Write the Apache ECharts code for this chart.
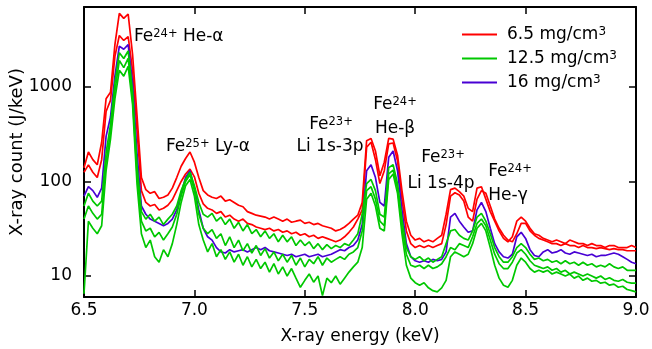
<!DOCTYPE html>
<html><head><meta charset="utf-8">
<script src="https://cdn.jsdelivr.net/npm/echarts@6/dist/echarts.min.js"></script>
<style>html,body{margin:0;padding:0;background:#fff}#c{width:652px;height:349px}</style>
</head><body><div id="c"></div>
<script>
// X-ray energy grid (keV)
const energies = [
 6.50,6.52,6.54,6.56,6.58,6.60,6.62,6.64,6.66,6.68,
 6.70,6.72,6.74,6.76,6.78,6.80,6.82,6.84,6.86,6.88,
 6.90,6.92,6.94,6.96,6.98,7.00,7.02,7.04,7.06,7.08,
 7.10,7.12,7.14,7.16,7.18,7.20,7.22,7.24,7.26,7.28,
 7.30,7.32,7.34,7.36,7.38,7.40,7.42,7.44,7.46,7.48,
 7.50,7.52,7.54,7.56,7.58,7.60,7.62,7.64,7.66,7.68,
 7.70,7.72,7.74,7.76,7.78,7.80,7.82,7.84,7.86,7.88,
 7.90,7.92,7.94,7.96,7.98,8.00,8.02,8.04,8.06,8.08,
 8.10,8.12,8.14,8.16,8.18,8.20,8.22,8.24,8.26,8.28,
 8.30,8.32,8.34,8.36,8.38,8.40,8.42,8.44,8.46,8.48,
 8.50,8.52,8.54,8.56,8.58,8.60,8.62,8.64,8.66,8.68,
 8.70,8.72,8.74,8.76,8.78,8.80,8.82,8.84,8.86,8.88,
 8.90,8.92,8.94,8.96,8.98,9.00];

// 6.5 mg/cm3 shots (red)
const red1 = [
 140,205,170,150,260,750,880,2800,6000,5300,
 5900,2200,500,110,82,75,78,66,68,72,
 85,110,145,175,205,160,110,80,72,68,
 66,70,62,64,60,56,54,48,46,44,
 43,42,40,42,40,38,40,37,38,39,
 36,37,35,36,34,33,32,30,31,33,
 36,40,44,60,270,285,210,115,160,285,
 280,190,80,38,27,24,25,23,24,23,
 25,27,45,82,85,78,70,52,48,85,
 88,65,48,38,30,25,23,26,38,42,
 38,32,28,27,25,24,23,24,23,22,
 24,23,22,22,21,22,21,21,20,21,
 21,20,20,20,21,20];
const red2 = [
 125,150,125,110,170,550,720,2100,3500,3100,
 3400,1500,350,80,60,55,57,50,52,56,
 64,80,100,120,135,112,75,58,52,50,
 46,48,42,44,40,38,40,36,35,33,
 32,31,32,30,31,29,30,28,29,27,
 28,26,27,25,26,25,24,23,24,26,
 29,33,40,50,230,260,170,95,130,250,
 255,165,65,30,22,20,21,20,21,20,
 21,22,35,70,76,72,62,42,38,65,
 80,75,55,40,32,27,24,23,28,36,
 36,30,27,25,24,23,22,22,21,22,
 21,21,20,21,20,20,19.5,20,19.5,19,
 19.5,19,19,18.5,18.5,18.5];

// 16 mg/cm3 shot (blue)
const blue1 = [
 70,88,80,68,85,300,480,1300,2700,2500,
 2800,1100,200,55,45,40,38,36,34,36,
 40,50,75,110,130,85,50,32,26,24,
 20,18,17.5,19,18,18.5,19,18,19,20,
 19,20,18.5,18,17.5,17,16.5,17,16,16.5,
 17,16,16.5,17,16,16.5,17,18,19,18.5,
 20,21,24,35,130,150,110,60,55,180,
 210,130,50,22,16,14.5,14,14.5,14,15,
 14.5,15,18,42,46,38,33,29,30,50,
 60,48,32,22,18,16,15.5,17,26,29,
 25,19,16.5,16,18,19,17.5,18,19,17.5,
 17,18,17.5,17,16.5,17,16,16.5,16.5,17,
 17.5,17,16,15,14,13.5];

// 12.5 mg/cm3 shots (green)
const green1 = [
 55,75,62,55,62,200,400,1100,2300,2000,
 2400,900,150,48,40,45,38,42,35,40,
 45,55,80,105,125,90,60,45,42,46,
 38,42,35,40,32,37,30,35,28,31,
 26,30,25,28,23,27,23,26,21,24,
 21,23,19.5,22,19,21.5,19.5,21,20,22,
 21,24,28,45,95,105,80,45,42,140,
 150,95,40,20,16,15,16,14.5,15.5,14,
 15,16,22,30,31,27,25,24,30,42,
 46,38,28,20,16,14,14,16,20,22,
 20,17,15,15.5,14.5,15,14,14.5,13.5,14.5,
 13.5,14,13,14,13,13.5,12.5,13,12.5,13.5,
 12.5,12,12.5,11.5,11.5,11.5];
const green2 = [
 40,55,46,40,45,160,330,900,1900,1600,
 2000,750,120,38,30,32,26,29,24,28,
 33,45,70,100,118,80,45,32,28,31,
 25,28,21,26,20,24,18.5,22,17.5,21,
 16.5,19.5,15.5,18,14.5,17,14,16.5,13,15.5,
 12.5,15,13.5,16,13,15.5,14,15,16,15,
 17,18,20,30,80,88,65,38,34,120,
 132,85,33,17,13,12.5,13,12,13,12,
 12.5,13.5,16,20,19,22,21,20,26,36,
 40,34,24,17,13.5,12,12,14,17.5,19,
 17,14.5,13,12.5,12,12.5,11.5,12,11,11.5,
 10.5,11,10.5,10,10.5,10,9.5,10,9.2,9.6,
 9,8.8,9.2,8.6,8.4,8.4];
const green3 = [
 6.5,38,32,28,34,130,280,750,1500,1300,
 1650,650,95,28,20,24,16,14,19,16,
 22,35,60,90,105,70,35,24,18,22,
 16,19,15,18,14,17,13,16,12.5,15,
 12,14,11,13.5,10.5,12.5,10,12,9.5,7.6,
 9,10.5,8.6,10,6.2,9.5,8.5,10,8.2,9.5,
 11,12.5,14,20,65,75,55,32,30,105,
 120,75,28,13,9.5,8.5,8,8.5,7.5,7,
 6.8,7.5,9,16,18,17,16,17,22,32,
 36,30,20,13,9.5,8,7.6,9,13,15.5,
 14,12,11,11.5,11,11.5,10.5,11,10.5,10,
 10.5,9.5,10,9,9.5,8.8,9,8.4,8.6,8,
 8.2,7.6,7.8,7.2,7,6.8];

const legendNames = ['6.5 mg/cm3', '12.5 mg/cm3', '16 mg/cm3'];
const annotations = [
 {text: '{m|Fe}{s|24+}{m| He-α}', x: 134, y: 37, align: 'left'},
 {text: '{m|Fe}{s|25+}{m| Ly-α}', x: 166, y: 147, align: 'left'},
 {text: '{m|Fe}{s|23+}', x: 331, y: 125, align: 'center'},
 {text: '{m|Li 1s-3p}', x: 330, y: 147, align: 'center'},
 {text: '{m|Fe}{s|24+}', x: 395, y: 105, align: 'center'},
 {text: '{m|He-β}', x: 395, y: 128.5, align: 'center'},
 {text: '{m|Fe}{s|23+}', x: 443, y: 158, align: 'center'},
 {text: '{m|Li 1s-4p}', x: 441, y: 183.5, align: 'center'},
 {text: '{m|Fe}{s|24+}', x: 510, y: 172, align: 'center'},
 {text: '{m|He-γ}', x: 508, y: 196, align: 'center'}
];

const FONT = 'DejaVu Sans';
const RED = '#ff0000', GREEN = '#00c800', BLUE = '#4800d4';
const richStyles = {
  m: {fontFamily: FONT, fontSize: 17, lineHeight: 17, color: '#000'},
  s: {fontFamily: FONT, fontSize: 11.5, lineHeight: 12, verticalAlign: 'top', color: '#000'}
};

const chart = echarts.init(document.getElementById('c'), null, {renderer: 'canvas'});
function pairs(v) { return energies.map((e, i) => [e, v[i]]); }
function line(name, color, vals) {
  return {
    type: 'line', name: name, data: pairs(vals), symbol: 'none', showSymbol: false,
    color: color, lineStyle: {color: color, width: 1.7}, silent: true, z: 3
  };
}
const axisLine = {show: true, lineStyle: {color: '#000', width: 2}};
const tick = {show: true, inside: true, length: 7, lineStyle: {color: '#000', width: 1.5}};

chart.setOption({
  animation: false,
  grid: {left: 84, right: 16, top: 7, bottom: 52, containLabel: false, outerBoundsMode: 'none'},
  xAxis: [
    {type: 'value', position: 'bottom', min: 6.5, max: 9.0, interval: 0.5,
     axisLine: axisLine, axisTick: tick, splitLine: {show: false},
     axisLabel: {color: '#000', fontFamily: FONT, fontSize: 17, margin: 5,
                 formatter: v => v.toFixed(1)},
     name: 'X-ray energy (keV)', nameLocation: 'middle', nameGap: 31, nameMoveOverlap: false,
     nameTextStyle: {color: '#000', fontFamily: FONT, fontSize: 17}},
    {type: 'value', position: 'top', min: 6.5, max: 9.0, interval: 0.5,
     axisLine: axisLine, axisTick: tick, splitLine: {show: false},
     axisLabel: {show: false}}
  ],
  yAxis: [
    {type: 'log', logBase: 10, position: 'left', min: 6, max: 7000,
     axisLine: axisLine, axisTick: tick, splitLine: {show: false}, minorTick: {show: false},
     axisLabel: {color: '#000', fontFamily: FONT, fontSize: 17, margin: 12,
                 showMinLabel: false, showMaxLabel: false,
                 formatter: v => String(Math.round(v))},
     name: 'X-ray count (J/keV)', nameLocation: 'middle', nameGap: 58, nameMoveOverlap: false,
     nameTextStyle: {color: '#000', fontFamily: FONT, fontSize: 18}},
    {type: 'log', logBase: 10, position: 'right', min: 6, max: 7000,
     axisLine: axisLine, axisTick: tick, splitLine: {show: false},
     axisLabel: {show: false}}
  ],
  legend: {
    orient: 'vertical', left: 457, top: 21, itemWidth: 35, itemHeight: 2, itemGap: 7,
    icon: 'rect', data: legendNames,
    formatter: n => '{m|' + n.slice(0, -1) + '}{s|' + n.slice(-1) + '}',
    textStyle: {fontFamily: FONT, fontSize: 17, color: '#000',
      rich: {
        m: {fontFamily: FONT, fontSize: 17, lineHeight: 17, color: '#000', padding: [0, 0, 0, 5]},
        s: {fontFamily: FONT, fontSize: 12, lineHeight: 12, verticalAlign: 'top', color: '#000'}
      }}
  },
  series: [
    line(legendNames[0], RED, red1),
    line(legendNames[0], RED, red2),
    line(legendNames[2], BLUE, blue1),
    line(legendNames[1], GREEN, green1),
    line(legendNames[1], GREEN, green2),
    line(legendNames[1], GREEN, green3)
  ],
  graphic: annotations.map(a => ({
    type: 'text', x: a.x, y: a.y, z: 10, silent: true,
    style: {text: a.text, rich: richStyles, align: a.align, verticalAlign: 'middle',
            fill: '#000', font: '17px ' + FONT}
  }))
});
</script></body></html>
